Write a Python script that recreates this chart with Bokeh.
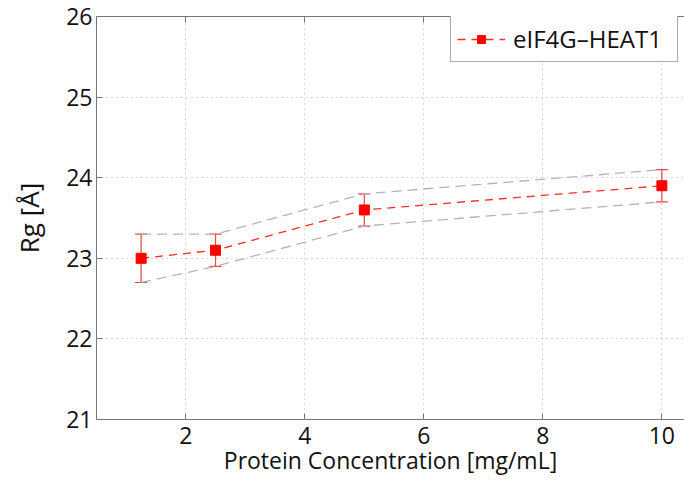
from bokeh.plotting import figure
from bokeh.models import (ColumnDataSource, Whisker, TeeHead, Legend, LegendItem, LinearAxis,
                          FixedTicker, CustomJSTickFormatter)
from bokeh.embed import file_html
from bokeh.resources import INLINE

# Data
conc = [1.25, 2.5, 5.0, 10.0]
rg = [23.0, 23.1, 23.6, 23.9]
rg_upper = [23.3, 23.3, 23.8, 24.1]
rg_lower = [22.7, 22.9, 23.4, 23.7]
x_ticks = [2, 4, 6, 8, 10]
y_ticks = [21, 22, 23, 24, 25, 26]
series_name = "eIF4G\u2013HEAT1"

FONT = "Open Sans"
src = ColumnDataSource(dict(x=conc, y=rg, up=rg_upper, lo=rg_lower))

p = figure(width=684, height=484, x_range=(0.5, 10.38), y_range=(21, 26),
           output_backend="svg", toolbar_location=None,
           min_border_left=96, min_border_top=16, min_border_right=0, min_border_bottom=65)
p.outline_line_color = None
p.background_fill_color = "white"
p.border_fill_color = "white"

# grid
for g in (p.xgrid, p.ygrid):
    g.grid_line_color = "#b5b5b5"
    g.grid_line_dash = "1 4"
    g.grid_line_width = 1

p.xaxis.ticker = FixedTicker(ticks=x_ticks)
p.yaxis.ticker = FixedTicker(ticks=y_ticks)
for ax in (p.xaxis, p.yaxis):
    ax.axis_line_color = "#777777"
    ax.major_tick_line_color = "#777777"
    ax.major_tick_in = 6
    ax.major_tick_out = 0
    ax.minor_tick_line_color = None
    ax.major_label_text_font = FONT
    ax.major_label_text_font_size = "23px"
    ax.major_label_text_color = "#111111"
    ax.axis_label_text_font = FONT
    ax.axis_label_text_font_style = "normal"
    ax.axis_label_text_color = "#111111"

p.xaxis.axis_label = "Protein Concentration [mg/mL]"
p.yaxis.axis_label = "Rg [\u00c5]"
p.xaxis.axis_label_text_font_size = "23px"
p.yaxis.axis_label_text_font_size = "26px"
p.xaxis.major_label_standoff = 7
p.xaxis.axis_label_standoff = -3
p.yaxis.major_label_standoff = 4
p.yaxis.axis_label_standoff = 16

top_axis = LinearAxis(ticker=FixedTicker(ticks=x_ticks), axis_line_color="#777777",
                      major_tick_line_color="#777777", major_tick_in=6, major_tick_out=0,
                      minor_tick_line_color=None,
                      formatter=CustomJSTickFormatter(code="return ''"),
                      major_label_standoff=0)
p.add_layout(top_axis, "above")

# confidence band lines
p.line("x", "up", source=src, line_color="#b4b4b4", line_dash="10 6", line_width=1.3)
p.line("x", "lo", source=src, line_color="#b4b4b4", line_dash="10 6", line_width=1.3)

# error bars
ecol = "#ee4444"
wh = Whisker(source=src, base="x", upper="up", lower="lo", line_color=ecol, line_width=1.2,
             upper_head=TeeHead(size=12, line_color=ecol, line_width=1.2),
             lower_head=TeeHead(size=12, line_color=ecol, line_width=1.2))
p.add_layout(wh)

ln = p.line("x", "y", source=src, line_color="#ff2a2a", line_dash="8 6", line_width=1.3)
sc = p.scatter("x", "y", source=src, marker="square", size=10, fill_color="#ff0000", line_color="#ff0000")

legend = Legend(items=[LegendItem(label=series_name, renderers=[ln, sc])],
                location=(354, 357), orientation="vertical",
                label_text_font=FONT, label_text_font_size="24px", label_text_color="#111111",
                border_line_color="#555555", border_line_width=1, background_fill_color="white",
                background_fill_alpha=1.0, glyph_width=48, glyph_height=20, label_height=24,
                label_width=158, padding=6, spacing=0, margin=0, label_standoff=8)
p.add_layout(legend, "center")

open("out.html", "w").write(file_html(p, INLINE))
